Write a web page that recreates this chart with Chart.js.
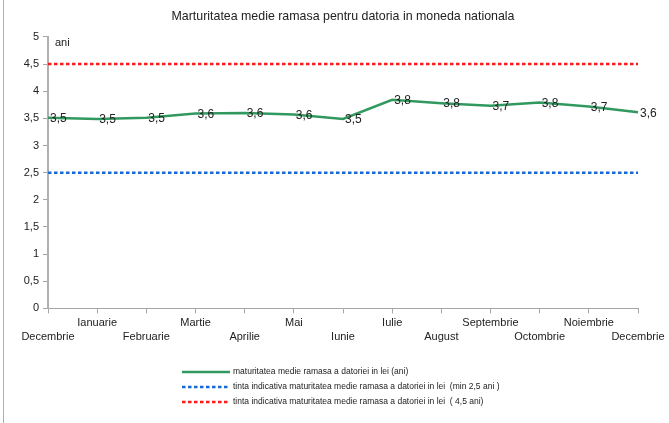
<!DOCTYPE html>
<html>
<head>
<meta charset="utf-8">
<script src="https://cdn.jsdelivr.net/npm/chart.js@4.4.1/dist/chart.umd.min.js"></script>
<style>
  html, body { margin: 0; padding: 0; background: #fff; }
  #wrap { position: relative; width: 669px; height: 423px; }
  #frame { position: absolute; left: 3px; top: 0; width: 1px; height: 423px; background: #95b3d7; }
</style>
</head>
<body>
<div id="wrap">
  <canvas id="chart" width="669" height="423"></canvas>
  <div id="frame"></div>
</div>
<script>
// Months on the x axis (Decembrie of previous year .. Decembrie)
const months = ['Decembrie', 'Ianuarie', 'Februarie', 'Martie', 'Aprilie', 'Mai', 'Iunie',
    'Iulie', 'August', 'Septembrie', 'Octombrie', 'Noiembrie', 'Decembrie'];

// Average remaining maturity (years)
const maturity = [3.51, 3.49, 3.51, 3.59, 3.6, 3.57, 3.49, 3.84, 3.78, 3.73, 3.79, 3.72, 3.61];

// Indicative targets
const targetMin = [2.5, 2.5, 2.5, 2.5, 2.5, 2.5, 2.5, 2.5, 2.5, 2.5, 2.5, 2.5, 2.5];
const targetMax = [4.5, 4.5, 4.5, 4.5, 4.5, 4.5, 4.5, 4.5, 4.5, 4.5, 4.5, 4.5, 4.5];

const seriesNames = [
    'maturitatea medie ramasa a datoriei in lei (ani)',
    'tinta indicativa maturitatea medie ramasa a datoriei in lei  (min 2,5 ani )',
    'tinta indicativa maturitatea medie ramasa a datoriei in lei  ( 4,5 ani)'
];

const chartTitle = 'Marturitatea medie ramasa pentru datoria in moneda nationala';
const axisUnit = 'ani';

// labels alternate between two rows, like the original
const xLabels = months.map((m, i) => i % 2 === 0 ? ['', m] : [m]);

const fmt = v => (Math.round(v * 10) / 10).toFixed(1).replace('.', ',');
const fmtTick = v => String(v).replace('.', ',');

Chart.defaults.font.family = "'Liberation Sans', Arial, sans-serif";
Chart.defaults.color = '#222';

// value labels next to each point of the main series
const valueLabels = {
    id: 'valueLabels',
    afterDatasetsDraw(chart) {
        const ctx = chart.ctx;
        const meta = chart.getDatasetMeta(0);
        ctx.save();
        ctx.font = "12px 'Liberation Sans', Arial, sans-serif";
        ctx.fillStyle = '#222';
        ctx.textAlign = 'left';
        ctx.textBaseline = 'middle';
        meta.data.forEach((pt, i) => {
            ctx.fillText(fmt(maturity[i]), pt.x + 2, pt.y + 1);
        });
        // unit text inside the top of the plot
        ctx.font = "11px 'Liberation Sans', Arial, sans-serif";
        ctx.fillText(axisUnit, chart.chartArea.left + 7, chart.chartArea.top + 6);
        ctx.restore();
    }
};

// legend stacked as a left-aligned column below the axis
const columnLegend = {
    id: 'columnLegend',
    afterDraw(chart) {
        const ctx = chart.ctx;
        const x0 = 182, y0 = 372, rowH = 15, sample = 48;
        ctx.save();
        ctx.font = "8.5px 'Liberation Sans', Arial, sans-serif";
        ctx.textBaseline = 'middle';
        ctx.textAlign = 'left';
        chart.data.datasets.forEach((ds, i) => {
            const y = y0 + i * rowH;
            ctx.beginPath();
            ctx.strokeStyle = ds.borderColor;
            ctx.lineWidth = 2.5;
            ctx.setLineDash(ds.borderDash || []);
            ctx.moveTo(x0, y);
            ctx.lineTo(x0 + sample, y);
            ctx.stroke();
            ctx.setLineDash([]);
            ctx.fillStyle = '#222';
            ctx.fillText(ds.label, x0 + sample + 3, y);
        });
        ctx.restore();
    }
};

new Chart(document.getElementById('chart'), {
    type: 'line',
    data: {
        labels: xLabels,
        datasets: [{
            label: seriesNames[0],
            data: maturity,
            borderColor: '#31995f',
            borderWidth: 2.5,
            pointRadius: 0,
            tension: 0
        }, {
            label: seriesNames[1],
            data: targetMin,
            borderColor: '#1769d6',
            borderWidth: 2.5,
            borderDash: [3.5, 2.5],
            pointRadius: 0
        }, {
            label: seriesNames[2],
            data: targetMax,
            borderColor: '#ff1a1a',
            borderWidth: 2.5,
            borderDash: [3.5, 2.5],
            pointRadius: 0
        }]
    },
    options: {
        responsive: false,
        animation: false,
        layout: { padding: { left: 0, right: 31, top: 0, bottom: 77 } },
        plugins: {
            legend: { display: false },
            tooltip: { enabled: false },
            title: {
                display: true,
                fullSize: false,
                text: chartTitle,
                color: '#222',
                font: { size: 12.4, weight: 'normal' },
                padding: { top: 9, bottom: 13 }
            }
        },
        scales: {
            x: {
                offset: false,
                grid: { display: true, drawOnChartArea: false, drawTicks: true, tickLength: 5, color: '#a6a6a6' },
                border: { color: '#a6a6a6', width: 1 },
                ticks: {
                    autoSkip: false,
                    maxRotation: 0,
                    minRotation: 0,
                    padding: 2,
                    color: '#222',
                    font: { size: 11, lineHeight: 1.3 }
                }
            },
            y: {
                min: 0,
                max: 5,
                afterFit(scale) { scale.width = 48; },
                grid: { display: true, drawOnChartArea: false, drawTicks: true, tickLength: 5, color: '#a6a6a6' },
                border: { color: '#b0b0b0', width: 2 },
                ticks: {
                    stepSize: 0.5,
                    padding: 4,
                    color: '#222',
                    font: { size: 11 },
                    callback: v => fmtTick(v)
                }
            }
        }
    },
    plugins: [valueLabels, columnLegend]
});
</script>
</body>
</html>
